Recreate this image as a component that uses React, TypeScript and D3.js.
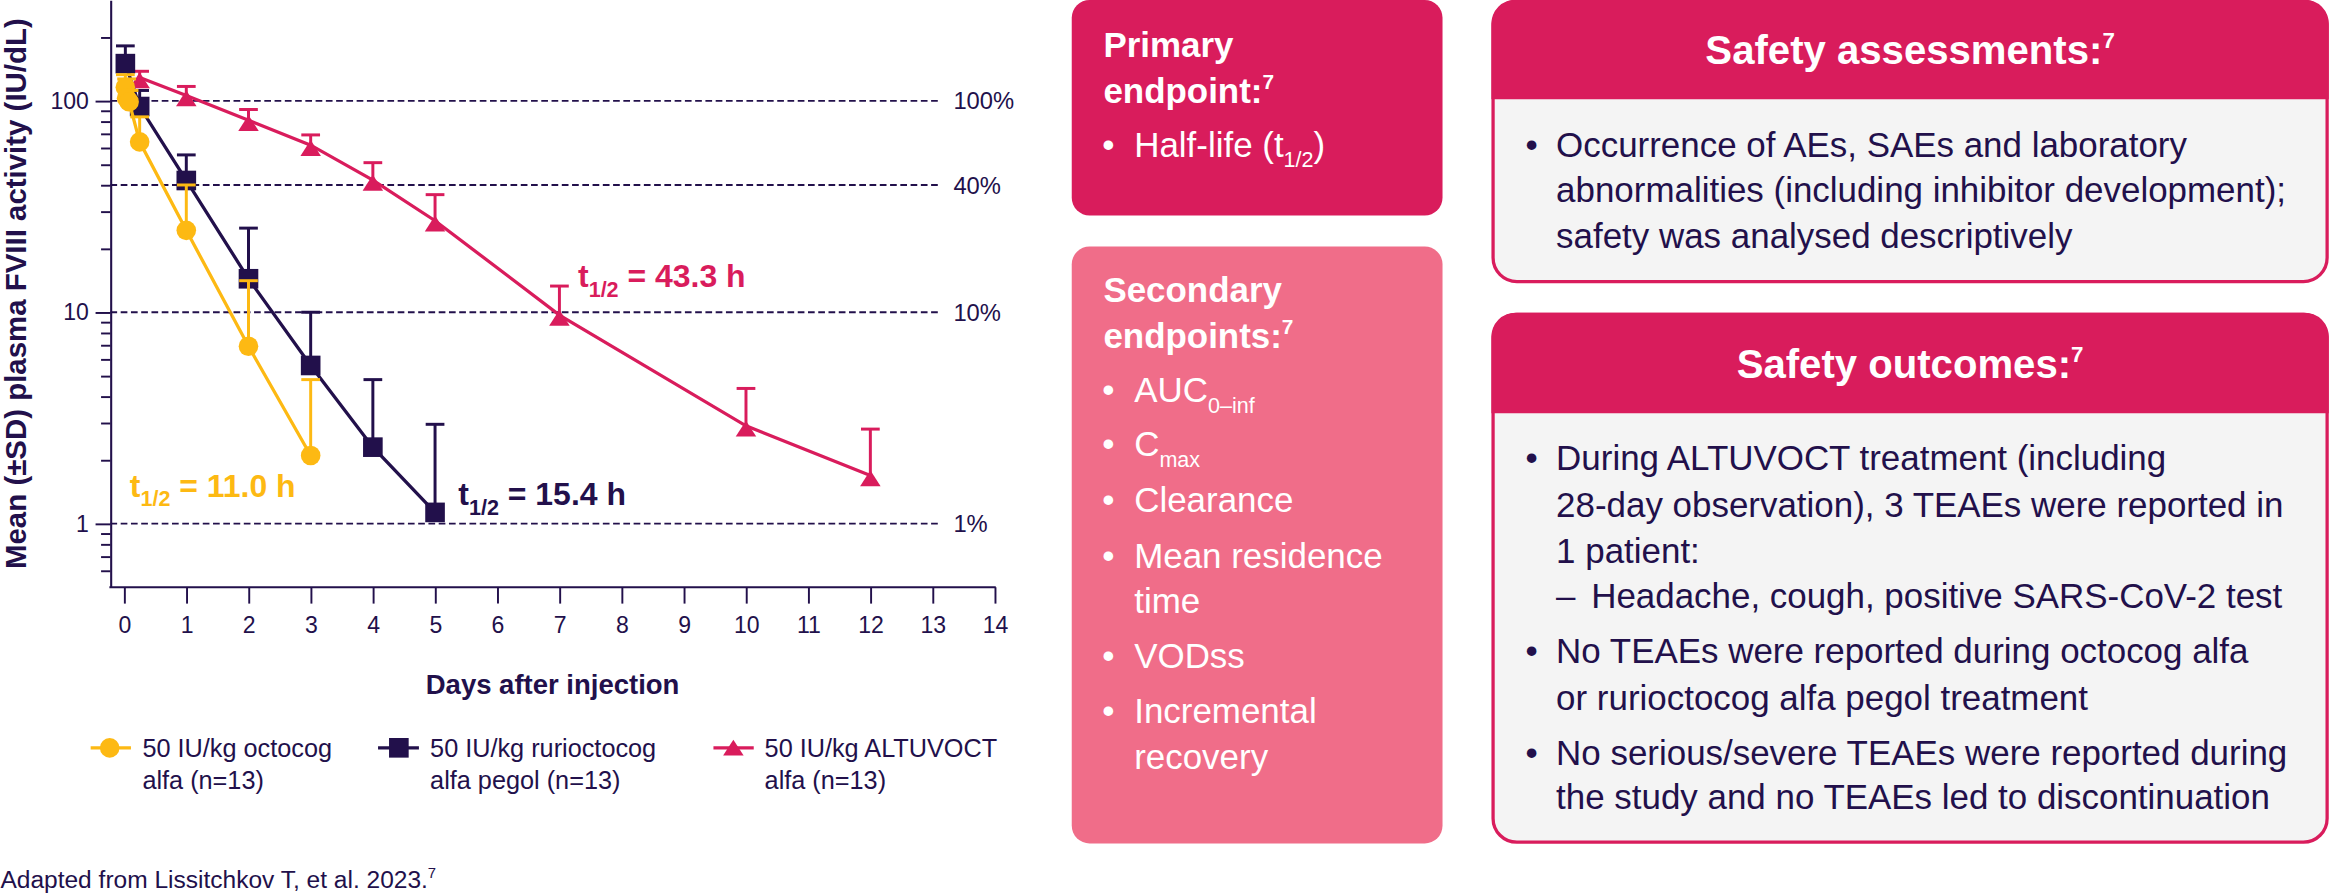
import { useEffect, useRef } from 'react'
import * as d3 from 'd3'

const NAVY    = '#22104b'
const MAGENTA = '#d91c5c'
const PINK    = '#f06d89'
const YELLOW  = '#fdb913'
const FONT    = '"Liberation Sans", Arial, Helvetica, sans-serif'

// axes
const dayTicks    = [0, 1, 2, 3, 4, 5, 6, 7, 8, 9, 10, 11, 12, 13, 14]
const yMajorTicks = [1, 10, 100]
const yMinorTicks = [0.6, 0.7, 0.8, 0.9, 2, 3, 4, 5, 6, 7, 8, 9, 20, 30, 40, 50, 60, 70, 80, 90, 200]
const refValues   = [100, 40, 10, 1]
const refLabels   = ['100%', '40%', '10%', '1%']

// 50 IU/kg octocog alfa
const octocogDays  = [0.02, 0.04, 0.08, 0.25, 1, 2, 3]
const octocogMean  = [116, 103, 99, 64, 24.4, 6.9, 2.1]
const octocogUpper = [133, 127, 112, 84, 40, 14.1, 4.8]

// 50 IU/kg rurioctocog alfa pegol
const rurioDays  = [0.02, 0.25, 1, 2, 3, 4, 5]
const rurioMean  = [150, 94, 42, 14.4, 5.6, 2.3, 1.13]
const rurioUpper = [182, 112, 55.5, 25, 10, 4.8, 2.95]

// 50 IU/kg ALTUVOCT
const altuDays  = [0.25, 1, 2, 3, 4, 5, 7, 10, 12]
const altuMean  = [129, 106, 81, 61.7, 42.2, 27.1, 9.7, 2.9, 1.69]
const altuUpper = [138, 117, 91, 69, 51, 36, 13.3, 4.36, 2.8]

const legendLabels = [
  ['50 IU/kg octocog', 'alfa (n=13)'],
  ['50 IU/kg rurioctocog', 'alfa pegol (n=13)'],
  ['50 IU/kg ALTUVOCT', 'alfa (n=13)'],
]

type Part = { s: string; kind?: 'sub' | 'sup' }
type Sel = d3.Selection<any, unknown, null, undefined>

function richText(g: Sel, x: number, y: number, parts: Part[], size: number,
                  fill: string, weight = 400, anchor = 'start', small = size * 0.62) {
  const t = g.append('text')
    .attr('x', x).attr('y', y)
    .attr('font-size', size).attr('font-weight', weight)
    .attr('fill', fill).attr('text-anchor', anchor)
  let shift = 0
  parts.forEach(p => {
    const target = p.kind === 'sub' ? size * 0.3 : p.kind === 'sup' ? -size * 0.4 : 0
    t.append('tspan')
      .attr('dy', target - shift)
      .attr('font-size', p.kind ? small : size)
      .text(p.s)
    shift = target
  })
  return t
}

function marker(g: Sel, shape: string, cx: number, cy: number, color: string) {
  if (shape === 'circle') {
    g.append('circle').attr('cx', cx).attr('cy', cy).attr('r', 6.6).attr('fill', color)
  } else if (shape === 'square') {
    g.append('rect').attr('x', cx - 6.6).attr('y', cy - 6.6).attr('width', 13.2).attr('height', 13.2).attr('fill', color)
  } else {
    // triangle sits a little below the point, as in the source artwork
    g.append('path')
      .attr('d', `M${cx},${cy - 3.5} L${cx + 6.9},${cy + 7.2} L${cx - 6.9},${cy + 7.2} Z`)
      .attr('fill', color)
  }
}

export default function App() {
  const svgRef = useRef<SVGSVGElement>(null)

  useEffect(() => {
    if (!svgRef.current) return
    const svg = d3.select(svgRef.current)
    svg.selectAll('*').remove()

    const axisX  = 74
    const axisY  = 395
    const xScale = d3.scaleLinear().domain([0, 14]).range([83.2, 668.8])
    const yScale = d3.scaleLog().domain([0.5, 300]).range([axisY, 0])

    const g = svg.append('g')

    // reference lines
    refValues.forEach((v, i) => {
      g.append('line')
        .attr('x1', axisX).attr('x2', 631)
        .attr('y1', yScale(v)).attr('y2', yScale(v))
        .attr('stroke', NAVY).attr('stroke-width', 1.3).attr('stroke-dasharray', '4.5,2.4')
      g.append('text')
        .attr('x', 641).attr('y', yScale(v)).attr('dy', '0.36em')
        .attr('font-size', 16).attr('fill', NAVY).text(refLabels[i])
    })

    // y axis
    g.append('g').attr('transform', `translate(${axisX},0)`)
      .call(d3.axisLeft(yScale).tickValues(yMinorTicks).tickSize(6.3).tickSizeOuter(0).tickFormat(() => ''))
      .call(sel => {
        sel.select('.domain').attr('stroke', NAVY).attr('stroke-width', 1.4)
        sel.selectAll('.tick line').attr('stroke', NAVY).attr('stroke-width', 1.3)
      })
    g.append('g').attr('transform', `translate(${axisX},0)`)
      .call(d3.axisLeft(yScale).tickValues(yMajorTicks).tickSize(10).tickPadding(4.5).tickSizeOuter(0)
        .tickFormat(d => String(d)))
      .call(sel => {
        sel.select('.domain').remove()
        sel.selectAll('.tick line').attr('stroke', NAVY).attr('stroke-width', 1.3)
        sel.selectAll('text').attr('font-size', 15.5).attr('fill', NAVY).attr('font-family', FONT)
      })

    // x axis
    g.append('line')
      .attr('x1', axisX - 0.7).attr('x2', xScale(14) + 0.7)
      .attr('y1', axisY).attr('y2', axisY)
      .attr('stroke', NAVY).attr('stroke-width', 1.4)
    g.append('g').attr('transform', `translate(0,${axisY})`)
      .call(d3.axisBottom(xScale).tickValues(dayTicks).tickSize(11).tickPadding(9).tickSizeOuter(0)
        .tickFormat(d => String(d)))
      .call(sel => {
        sel.select('.domain').remove()
        sel.selectAll('.tick line').attr('stroke', NAVY).attr('stroke-width', 1.3)
        sel.selectAll('text').attr('font-size', 15.5).attr('fill', NAVY).attr('font-family', FONT)
      })

    // axis titles
    g.append('text')
      .attr('transform', `translate(17.5,197.5) rotate(-90)`)
      .attr('text-anchor', 'middle').attr('font-size', 19.8).attr('font-weight', 700).attr('fill', NAVY)
      .text('Mean (±SD) plasma FVIII activity (IU/dL)')
    g.append('text')
      .attr('x', (axisX + xScale(14)) / 2).attr('y', 467)
      .attr('text-anchor', 'middle').attr('font-size', 18.5).attr('font-weight', 700).attr('fill', NAVY)
      .text('Days after injection')

    // series (drawn back to front)
    const series = [
      { days: altuDays,    mean: altuMean,    upper: altuUpper,    color: MAGENTA, shape: 'triangle' },
      { days: rurioDays,   mean: rurioMean,   upper: rurioUpper,   color: NAVY,    shape: 'square' },
      { days: octocogDays, mean: octocogMean, upper: octocogUpper, color: YELLOW,  shape: 'circle' },
    ]
    series.forEach(s => {
      const sg = g.append('g')
      const pts = s.days.map((d, i) => [xScale(d), yScale(s.mean[i])] as [number, number])
      sg.append('path')
        .attr('d', d3.line()(pts))
        .attr('fill', 'none').attr('stroke', s.color).attr('stroke-width', 2.2)
      s.days.forEach((d, i) => {
        const cx = xScale(d)
        const yTop = yScale(s.upper[i])
        sg.append('line').attr('x1', cx).attr('x2', cx)
          .attr('y1', yScale(s.mean[i])).attr('y2', yTop)
          .attr('stroke', s.color).attr('stroke-width', 2)
        sg.append('line').attr('x1', cx - 6.3).attr('x2', cx + 6.3)
          .attr('y1', yTop).attr('y2', yTop)
          .attr('stroke', s.color).attr('stroke-width', 2)
      })
      s.days.forEach((d, i) => marker(sg, s.shape, xScale(d), yScale(s.mean[i]), s.color))
    })

    // half-life annotations
    const half = (x: number, y: number, v: string, c: string) =>
      richText(g, x, y, [{ s: 't' }, { s: '1/2', kind: 'sub' }, { s: ` = ${v} h` }], 21.5, c, 700, 'start', 14.5)
    half(87, 334, '11.0', YELLOW)
    half(308, 340, '15.4', NAVY)
    half(388.5, 193.2, '43.3', MAGENTA)

    // legend
    const legendX = [
      { x1: 60.7, x2: 87.8, m: 73.5, tx: 95.5 },
      { x1: 254, x2: 281.5, m: 268, tx: 289 },
      { x1: 479.6, x2: 506.7, m: 493, tx: 514 },
    ]
    const legendSeries = [series[2], series[1], series[0]]
    legendSeries.forEach((s, i) => {
      const p = legendX[i]
      g.append('line').attr('x1', p.x1).attr('x2', p.x2).attr('y1', 503).attr('y2', 503)
        .attr('stroke', s.color).attr('stroke-width', 2.2)
      marker(g, s.shape, p.m, s.shape === 'triangle' ? 501 : 503, s.color)
      legendLabels[i].forEach((l, j) => {
        g.append('text').attr('x', p.tx).attr('y', 509 + j * 21.5)
          .attr('font-size', 17).attr('fill', NAVY).text(l)
      })
    })

    // source
    richText(g, 0, 597, [{ s: 'Adapted from Lissitchkov T, et al. 2023.' }, { s: '7', kind: 'sup' }], 16.5, NAVY, 400, 'start', 10)

    // ---- right panels ----
    const W = '#ffffff'
    // primary endpoint
    g.append('rect').attr('x', 720.6).attr('y', 0).attr('width', 249.4).attr('height', 145).attr('rx', 12)
      .attr('fill', MAGENTA)
    richText(g, 741.9, 38.4, [{ s: 'Primary' }], 23.5, W, 700)
    richText(g, 741.9, 69, [{ s: 'endpoint:' }, { s: '7', kind: 'sup' }], 23.5, W, 700, 'start', 14)
    g.append('text').attr('x', 745.3).attr('y', 105.6).attr('text-anchor', 'middle')
      .attr('font-size', 23.5).attr('fill', W).text('•')
    richText(g, 762.6, 105.6, [{ s: 'Half-life (t' }, { s: '1/2', kind: 'sub' }, { s: ')' }], 23.5, W, 400, 'start', 14.5)

    // secondary endpoints
    g.append('rect').attr('x', 720.6).attr('y', 165.8).attr('width', 249.4).attr('height', 401.5).attr('rx', 12)
      .attr('fill', PINK)
    richText(g, 741.9, 203.4, [{ s: 'Secondary' }], 23.5, W, 700)
    richText(g, 741.9, 234, [{ s: 'endpoints:' }, { s: '7', kind: 'sup' }], 23.5, W, 700, 'start', 14)
    const secondary: { y: number; parts: Part[]; bullet: boolean }[] = [
      { y: 270.6, parts: [{ s: 'AUC' }, { s: '0–inf', kind: 'sub' }], bullet: true },
      { y: 307, parts: [{ s: 'C' }, { s: 'max', kind: 'sub' }], bullet: true },
      { y: 344.3, parts: [{ s: 'Clearance' }], bullet: true },
      { y: 381.9, parts: [{ s: 'Mean residence' }], bullet: true },
      { y: 412.6, parts: [{ s: 'time' }], bullet: false },
      { y: 449, parts: [{ s: 'VODss' }], bullet: true },
      { y: 486.6, parts: [{ s: 'Incremental' }], bullet: true },
      { y: 517.4, parts: [{ s: 'recovery' }], bullet: false },
    ]
    secondary.forEach(r => {
      if (r.bullet) {
        g.append('text').attr('x', 745.3).attr('y', r.y).attr('text-anchor', 'middle')
          .attr('font-size', 23.5).attr('fill', W).text('•')
      }
      richText(g, 762.6, r.y, r.parts, 23.5, W, 400, 'start', 14.5)
    })

    // safety boxes
    const box = (y: number, h: number, head: number, title: string,
                 lines: { y: number; s: string; bullet?: boolean; dash?: boolean }[]) => {
      const x = 1004, w = 561, r = 16
      g.append('rect').attr('x', x).attr('y', y).attr('width', w).attr('height', h).attr('rx', r)
        .attr('fill', '#f4f4f4').attr('stroke', MAGENTA).attr('stroke-width', 2.2)
      g.append('path')
        .attr('d', `M${x - 1.1},${y + head} V${y + r} A${r},${r} 0 0 1 ${x + r},${y - 1.1} H${x + w - r} A${r},${r} 0 0 1 ${x + w + 1.1},${y + r} V${y + head} Z`)
        .attr('fill', MAGENTA)
      richText(g, x + w / 2, y + head - 23.8, [{ s: title }, { s: '7', kind: 'sup' }], 27, W, 700, 'middle', 15)
      lines.forEach(l => {
        if (l.bullet) {
          g.append('text').attr('x', 1029.9).attr('y', l.y).attr('text-anchor', 'middle')
            .attr('font-size', 23.5).attr('fill', NAVY).text('•')
        }
        if (l.dash) {
          g.append('text').attr('x', 1046.4).attr('y', l.y).attr('font-size', 23.5).attr('fill', NAVY).text('–')
          g.append('text').attr('x', 1070).attr('y', l.y).attr('font-size', 23.5).attr('fill', NAVY).text(l.s)
        } else {
          g.append('text').attr('x', 1046.4).attr('y', l.y).attr('font-size', 23.5).attr('fill', NAVY).text(l.s)
        }
      })
    }
    box(1, 188.4, 65.8, 'Safety assessments:', [
      { y: 105.5, s: 'Occurrence of AEs, SAEs and laboratory', bullet: true },
      { y: 136, s: 'abnormalities (including inhibitor development);' },
      { y: 167, s: 'safety was analysed descriptively' },
    ])
    box(211.5, 355, 66.5, 'Safety outcomes:', [
      { y: 316.4, s: 'During ALTUVOCT treatment (including', bullet: true },
      { y: 347.6, s: '28-day observation), 3 TEAEs were reported in' },
      { y: 378.8, s: '1 patient:' },
      { y: 409, s: 'Headache, cough, positive SARS-CoV-2 test', dash: true },
      { y: 446, s: 'No TEAEs were reported during octocog alfa', bullet: true },
      { y: 477.3, s: 'or rurioctocog alfa pegol treatment' },
      { y: 514.3, s: 'No serious/severe TEAEs were reported during', bullet: true },
      { y: 544.4, s: 'the study and no TEAEs led to discontinuation' },
    ])
  }, [])

  return (
    <svg
      ref={svgRef}
      width={2332}
      height={895}
      viewBox="0 0 1568 602"
      style={{ position: 'absolute', left: 0, top: 0, background: '#fff', fontFamily: FONT }}
    />
  )
}
